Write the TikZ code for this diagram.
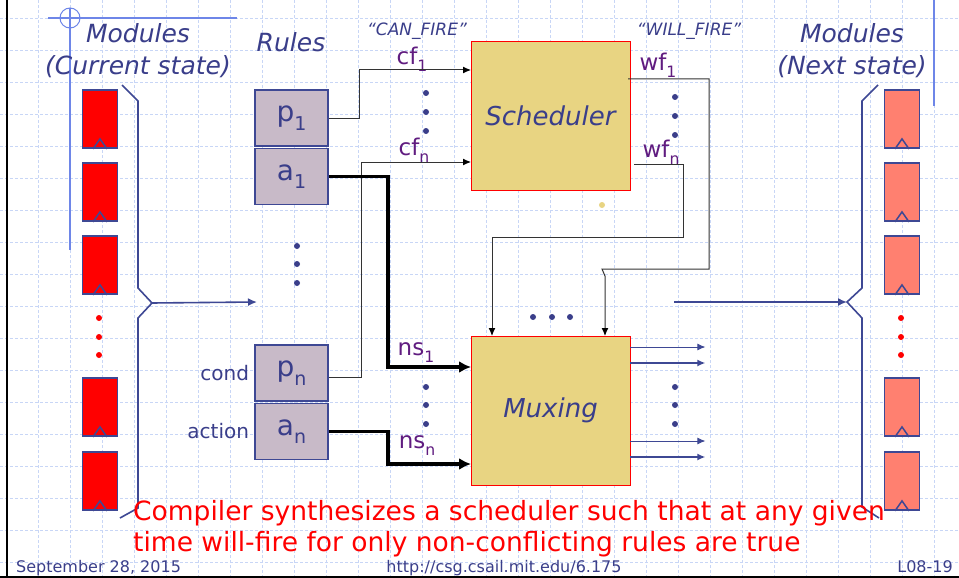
\documentclass[tikz,border=0pt]{standalone}
\usepackage{fontspec}
\setmainfont{DejaVu Sans}
\usepackage{graphicx}
\usetikzlibrary{positioning,arrows.meta}

\definecolor{inkblue}{RGB}{58,62,138}
\definecolor{sigpurple}{RGB}{96,28,128}
\definecolor{bdrblue}{RGB}{62,72,148}
\definecolor{gridblue}{RGB}{200,214,246}
\definecolor{slideblue}{RGB}{110,134,232}
\definecolor{schedfill}{RGB}{232,212,130}
\definecolor{rulefill}{RGB}{200,186,200}
\definecolor{nextfill}{RGB}{255,128,112}

\newcommand{\idx}[1]{\raisebox{-0.55ex}{\scalebox{0.68}{#1}}}

\begin{document}
\begin{tikzpicture}[x=1pt, y=-1pt,
    gridline/.style={gridblue, line width=0.8pt, dash pattern=on 3pt off 2pt},
    flop/.style={draw=bdrblue, line width=1.8pt, minimum width=35pt, minimum height=58pt, inner sep=0pt},
    rulebox/.style={draw=bdrblue, fill=rulefill, line width=1.5pt, minimum width=73pt, minimum height=56pt,
        inner sep=0pt, text=inkblue, font=\fontsize{28}{28}\selectfont},
    block/.style={draw=red, fill=schedfill, line width=0.8pt, minimum width=159pt, minimum height=149pt,
        text=inkblue, font=\itshape\fontsize{26}{26}\selectfont},
    head/.style={text=inkblue, font=\itshape\fontsize{25}{32}\selectfont, align=center, inner sep=0pt},
    quot/.style={text=inkblue, font=\itshape\fontsize{17}{17}\selectfont, inner sep=0pt},
    siglbl/.style={text=sigpurple, font=\fontsize{23}{23}\selectfont, inner sep=0pt},
    side/.style={text=inkblue, font=\fontsize{20}{20}\selectfont, inner sep=0pt},
    note/.style={text=red, font=\fontsize{26.5}{26.5}\selectfont, inner sep=0pt},
    foot/.style={text=inkblue, font=\fontsize{16}{16}\selectfont, inner sep=0pt},
    sig/.style={draw=black!80, line width=1pt, -{Latex[length=8pt,width=7pt,color=black]}},
    bus/.style={line width=3.5pt, -{Latex[length=12pt,width=12pt]}},
    brace/.style={bdrblue, line width=1.6pt},
    outline/.style={bdrblue, -{Latex[length=8pt,width=7pt]}}
  ]
  \useasboundingbox (0,0) rectangle (959,578);

  % grid of the slide
  \fill[white] (0,0) rectangle (959,578);
  \foreach \gx in {6,38,...,958} \draw[gridline] (\gx,0) -- (\gx,578);
  \foreach \gy in {18,50,...,578} \draw[gridline] (0,\gy) -- (959,\gy);

  % slide frame
  \draw[line width=2.5pt] (7,0) -- (7,578);
  \draw[line width=2pt] (0,577) -- (959,577);
  \draw[slideblue, line width=1.2pt] (48,18) -- (237,18) (70,8) -- (70,250);
  \draw[slideblue, line width=1pt] (70,18) circle (10pt);
  \draw[slideblue, line width=1.5pt] (934,0) -- (934,106);

  % headings
  \node[head] (curhead) at (138,51) {Modules\\(Current state)};
  \node[head] (rulhead) at (291,42) {Rules};
  \node[head] (nxthead) at (852,51) {Modules\\(Next state)};
  \node[quot] (canfire) at (417,31) {“CAN\_FIRE”};
  \node[quot] (willfire) at (689,31) {“WILL\_FIRE”};

  % modules, current and next state
  \foreach \n/\yy in {1/119,2/192,3/265,4/407,5/481} {
    \node[flop, fill=red] (cur\n) at (100,\yy) {};
    \node[flop, fill=nextfill] (nxt\n) at (902,\yy) {};
    \draw[bdrblue, line width=1.5pt] ([xshift=-7pt]cur\n.south) -- ++(7,-10) -- ++(7,10);
    \draw[bdrblue, line width=1.5pt] ([xshift=-7pt]nxt\n.south) -- ++(7,-10) -- ++(7,10);
  }
  \foreach \yy in {318,337,355} {
    \fill[red] (99,\yy) circle (3pt);
    \fill[red] (901,\yy) circle (3pt);
  }

  % braces
  \coordinate (ltip) at (152,303);
  \coordinate (rtip) at (847,302);
  \coordinate (rulin) at (257,302);
  \coordinate (muxout) at (674,302);
  \draw[brace] (122,85) -- (138,101) -- (138,288) -- (ltip) -- (138,318) -- (138,508) -- (120,518);
  \draw[brace] (878,85) -- (862,101) -- (862,288) -- (rtip) -- (862,318) -- (862,507) -- (879,518);
  \draw[brace, -{Latex[length=9pt,width=8pt]}] (ltip) -- (rulin);
  \draw[brace, -{Latex[length=9pt,width=8pt]}] (muxout) -- (rtip);

  % rules
  \node[rulebox] (p1) at (291.5,118) {p\idx{1}};
  \node[rulebox, below=1pt of p1] (a1) {a\idx{1}};
  \node[rulebox] (pn) at (291.5,373) {p\idx{n}};
  \node[rulebox, below=1pt of pn] (an) {a\idx{n}};
  \node[side, left=5pt of pn] (cond) {cond};
  \node[side, left=5pt of an] (action) {action};
  \foreach \yy in {246,264,283} \fill[inkblue] (297,\yy) circle (3pt);

  % scheduler and muxing
  \node[block] (sched) at (550.5,115.5) {Scheduler};
  \node[block] (mux) at (550.5,410.5) {Muxing};
  \fill[schedfill] (602,205) circle (3pt);

  % ports
  \coordinate (cf1) at (471,70);
  \coordinate (cfn) at (471,162);
  \coordinate (ns1) at (471,367);
  \coordinate (nsn) at (471,464);
  \coordinate (wf1) at (628,79);
  \coordinate (wfn) at (634,164);
  \coordinate (sel1) at (492,336);
  \coordinate (seln) at (605,336);

  % signal labels
  \node[siglbl] (cf1lbl) at (412,59) {cf\idx{1}};
  \node[siglbl] (cfnlbl) at (414,150) {cf\idx{n}};
  \node[siglbl] (ns1lbl) at (416,353) {ns\idx{1}};
  \node[siglbl] (nsnlbl) at (417,446) {ns\idx{n}};
  \node[siglbl] (wf1lbl) at (658,65) {wf\idx{1}};
  \node[siglbl] (wfnlbl) at (661,152) {wf\idx{n}};

  % can_fire / will_fire wires
  \draw[sig] (p1.east) -- ++(31,0) |- (cf1);
  \draw[sig] (pn.east) ++(0,4) -- ++(33,0) |- (cfn);
  \draw[sig] (wf1) -- ++(81,0) -- ++(0,190) -- ++(-107,0) -- ++(3,7) -- (seln);
  \draw[sig] (wfn) -- ++(49,0) -- ++(0,73) -| (sel1);

  % next state wires
  \draw[bus] (a1.east) -- ++(59,0) |- (ns1);
  \draw[bus] (an.east) -- ++(59,0) |- (nsn);
  \foreach \yy/\lw in {347/0.9pt,363/2.5pt,441/0.9pt,457/2.5pt}
    \draw[outline, line width=\lw] (mux.east |- 0,\yy) -- ++(75,0);

  % dots
  \foreach \yy in {93,112,131} {
    \fill[inkblue] (426,\yy) circle (3pt);
    \fill[inkblue] (675,\yy+4) circle (3pt);
  }
  \foreach \yy in {387,405,424} {
    \fill[inkblue] (426,\yy) circle (3pt);
    \fill[inkblue] (675,\yy) circle (3pt);
  }
  \foreach \xx in {533,552,570} \fill[inkblue] (\xx,317) circle (3pt);

  % note
  \node[note, anchor=base west] (note1) at (133,520) {Compiler synthesizes a scheduler such that at any given};
  \node[note, anchor=base west] (note2) at (133,551) {time will-fire for only non-conflicting rules are true};

  % footer
  \node[foot, anchor=base west] (date) at (16,572) {September 28, 2015};
  \node[foot, anchor=base] (url) at (504,572) {http://csg.csail.mit.edu/6.175};
  \node[foot, anchor=base east] (slideno) at (953,572) {L08-19};
\end{tikzpicture}
\end{document}
